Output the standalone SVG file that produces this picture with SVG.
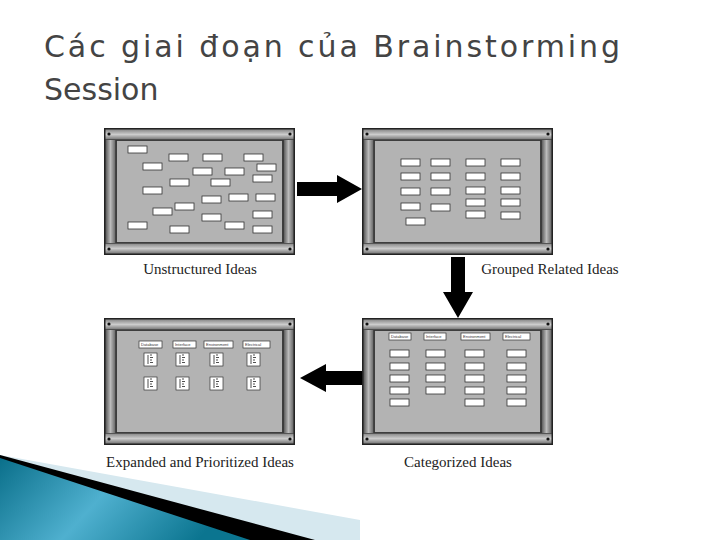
<svg xmlns="http://www.w3.org/2000/svg" xmlns:xlink="http://www.w3.org/1999/xlink" width="720" height="540" viewBox="0 0 720 540">
<defs>
<linearGradient id="side" x1="0" x2="1" y1="0" y2="0"><stop offset="0" stop-color="#555"/><stop offset="0.5" stop-color="#bbb"/><stop offset="1" stop-color="#666"/></linearGradient>
<linearGradient id="band" x1="0" x2="0" y1="0" y2="1"><stop offset="0" stop-color="#888"/><stop offset="0.5" stop-color="#ccc"/><stop offset="1" stop-color="#777"/></linearGradient>
<linearGradient id="teal" x1="0" x2="1" y1="0" y2="0.3"><stop offset="0" stop-color="#0a6f8a"/><stop offset="0.5" stop-color="#4fb0cf"/><stop offset="1" stop-color="#0b7590"/></linearGradient>
<g id="frame">
<rect x="0" y="0" width="191" height="127" fill="#222"/>
<rect x="1.5" y="1.5" width="188" height="10" fill="url(#band)"/>
<rect x="1.5" y="115.5" width="188" height="10" fill="url(#band)"/>
<rect x="1.5" y="12" width="10" height="103" fill="url(#side)"/>
<rect x="179.5" y="12" width="10" height="103" fill="url(#side)"/>
<rect x="12.5" y="12.5" width="166" height="102" fill="#b3b3b3" stroke="#333" stroke-width="0.8"/>
<circle cx="5" cy="6" r="1.6" fill="#111"/><circle cx="186" cy="6" r="1.6" fill="#111"/>
<circle cx="5" cy="121" r="1.6" fill="#111"/><circle cx="186" cy="121" r="1.6" fill="#111"/>
</g>
<rect id="c" width="19" height="7" fill="#fff" stroke="#333" stroke-width="0.8"/>
<g id="s"><rect width="13" height="13" fill="#fff" stroke="#333" stroke-width="0.7"/>
<path d="M6 2h2M6 4.5h3M6 7h2M6 9.5h3M4 2v9" stroke="#222" stroke-width="0.8"/></g>
</defs>
<style>
.lbl{font-family:"Liberation Serif",serif;font-size:15px;fill:#222}
.h{font-family:"Liberation Sans",sans-serif;font-size:4px;fill:#333}
</style>
<rect width="720" height="540" fill="#fff"/>
<text font-family="DejaVu Sans, sans-serif" font-size="30" fill="#444" x="44" y="57" textLength="576">Các giai đoạn của Brainstorming</text>
<text font-family="DejaVu Sans, sans-serif" font-size="30" fill="#444" x="44" y="100">Session</text>

<g id="decor">
<polygon points="0,455 360,520 360,540 0,540" fill="#d6e8ef"/>
<polygon points="0,455 315,540 0,540" fill="#000"/>
<polygon points="0,458 250,540 0,540" fill="url(#teal)"/>
</g>

<g id="n1"><use xlink:href="#frame" x="104" y="128"/>
<g>
<use xlink:href="#c" x="128" y="146"/><use xlink:href="#c" x="169" y="154"/><use xlink:href="#c" x="203" y="154"/><use xlink:href="#c" x="244" y="154"/>
<use xlink:href="#c" x="143" y="163"/><use xlink:href="#c" x="257" y="164"/><use xlink:href="#c" x="193" y="168"/><use xlink:href="#c" x="225" y="168"/>
<use xlink:href="#c" x="253" y="175"/><use xlink:href="#c" x="170" y="179"/><use xlink:href="#c" x="211" y="179"/><use xlink:href="#c" x="143" y="187"/>
<use xlink:href="#c" x="202" y="196"/><use xlink:href="#c" x="229" y="194"/><use xlink:href="#c" x="256" y="194"/><use xlink:href="#c" x="175" y="203"/>
<use xlink:href="#c" x="153" y="208"/><use xlink:href="#c" x="253" y="211"/><use xlink:href="#c" x="202" y="214"/><use xlink:href="#c" x="128" y="222"/>
<use xlink:href="#c" x="225" y="222"/><use xlink:href="#c" x="170" y="226"/><use xlink:href="#c" x="253" y="226"/>
</g>
<text class="lbl" x="200" y="274" text-anchor="middle">Unstructured Ideas</text></g>

<g id="n2"><use xlink:href="#frame" x="362" y="128"/>
<g>
<use xlink:href="#c" x="401" y="159"/><use xlink:href="#c" x="401" y="173"/><use xlink:href="#c" x="401" y="188"/><use xlink:href="#c" x="401" y="203"/><use xlink:href="#c" x="406" y="218"/>
<use xlink:href="#c" x="431" y="159"/><use xlink:href="#c" x="431" y="173"/><use xlink:href="#c" x="431" y="188"/><use xlink:href="#c" x="431" y="204"/>
<use xlink:href="#c" x="466" y="159"/><use xlink:href="#c" x="466" y="173"/><use xlink:href="#c" x="466" y="187"/><use xlink:href="#c" x="466" y="199"/><use xlink:href="#c" x="466" y="211"/>
<use xlink:href="#c" x="501" y="159"/><use xlink:href="#c" x="501" y="173"/><use xlink:href="#c" x="501" y="187"/><use xlink:href="#c" x="501" y="199"/><use xlink:href="#c" x="501" y="212"/>
</g>
<text class="lbl" x="550" y="274" text-anchor="middle">Grouped Related Ideas</text></g>

<g id="n3"><use xlink:href="#frame" x="104" y="318"/>
<rect x="139" y="341" width="23" height="7" fill="#fff" stroke="#333" stroke-width="0.7"/><text class="h" x="141" y="346">Database</text>
<rect x="173" y="341" width="23" height="7" fill="#fff" stroke="#333" stroke-width="0.7"/><text class="h" x="175" y="346">Interface</text>
<rect x="204" y="341" width="29" height="7" fill="#fff" stroke="#333" stroke-width="0.7"/><text class="h" x="206" y="346">Environment</text>
<rect x="243" y="341" width="27" height="7" fill="#fff" stroke="#333" stroke-width="0.7"/><text class="h" x="245" y="346">Electrical</text>
<use xlink:href="#s" x="144" y="353"/><use xlink:href="#s" x="176" y="353"/><use xlink:href="#s" x="210" y="353"/><use xlink:href="#s" x="247" y="353"/>
<use xlink:href="#s" x="144" y="377"/><use xlink:href="#s" x="176" y="377"/><use xlink:href="#s" x="210" y="377"/><use xlink:href="#s" x="247" y="377"/>
<text class="lbl" x="200" y="467" text-anchor="middle">Expanded and Prioritized Ideas</text></g>

<g id="n4"><use xlink:href="#frame" x="362" y="318"/>
<rect x="389" y="333" width="22" height="7" fill="#fff" stroke="#333" stroke-width="0.7"/><text class="h" x="391" y="338">Database</text>
<rect x="424" y="333" width="22" height="7" fill="#fff" stroke="#333" stroke-width="0.7"/><text class="h" x="426" y="338">Interface</text>
<rect x="461" y="333" width="29" height="7" fill="#fff" stroke="#333" stroke-width="0.7"/><text class="h" x="463" y="338">Environment</text>
<rect x="503" y="333" width="27" height="7" fill="#fff" stroke="#333" stroke-width="0.7"/><text class="h" x="505" y="338">Electrical</text>
<use xlink:href="#c" x="390" y="350"/><use xlink:href="#c" x="390" y="363"/><use xlink:href="#c" x="390" y="375"/><use xlink:href="#c" x="390" y="387"/><use xlink:href="#c" x="390" y="399"/>
<use xlink:href="#c" x="426" y="350"/><use xlink:href="#c" x="426" y="363"/><use xlink:href="#c" x="426" y="375"/><use xlink:href="#c" x="426" y="387"/>
<use xlink:href="#c" x="465" y="350"/><use xlink:href="#c" x="465" y="363"/><use xlink:href="#c" x="465" y="375"/><use xlink:href="#c" x="465" y="387"/><use xlink:href="#c" x="465" y="399"/>
<use xlink:href="#c" x="507" y="350"/><use xlink:href="#c" x="507" y="363"/><use xlink:href="#c" x="507" y="375"/><use xlink:href="#c" x="507" y="387"/><use xlink:href="#c" x="507" y="399"/>
<text class="lbl" x="458" y="467" text-anchor="middle">Categorized Ideas</text></g>

<g id="connectors" fill="#000">
<polygon points="297,182 337,182 337,175 362,189 337,203 337,196 297,196"/>
<polygon points="451,257 465,257 465,292 473,292 458,318 443,292 451,292"/>
<polygon points="362,371 326,371 326,364 300,378 326,392 326,385 362,385"/>
</g>
</svg>
